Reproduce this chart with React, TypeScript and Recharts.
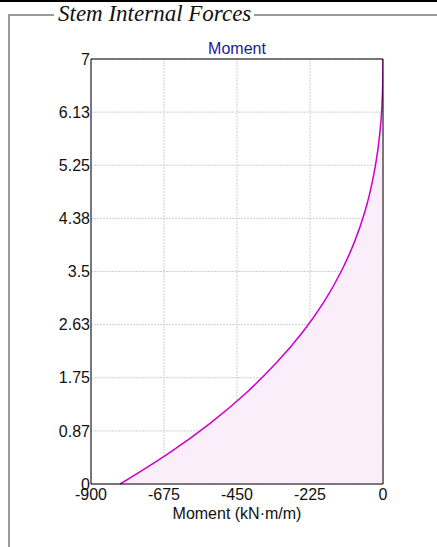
import {
  ComposedChart,
  Area,
  XAxis,
  YAxis,
  CartesianGrid,
  ReferenceLine,
} from 'recharts';

// stem height (m) and bending moment (kN·m/m)
const heights = [0, 0.5, 1, 1.5, 2, 2.5, 3, 3.5, 4, 4.5, 5, 5.5, 6, 6.5, 7];
const moments = [-810, -662, -533, -422, -328, -248, -182, -129, -87, -55, -32, -16, -6, -1.3, 0];

const xTicks = [-900, -675, -450, -225, 0];
const yTicks = [0, 0.875, 1.75, 2.625, 3.5, 4.375, 5.25, 6.125, 7];
const yTickLabels = ['0', '0.87', '1.75', '2.63', '3.5', '4.38', '5.25', '6.13', '7'];

const data = heights.map((h, i) => ({ h, m: moments[i] }));

export default function App() {
  const tickStyle = { fontSize: 16, fill: '#111' };

  return (
    <div
      style={{
        position: 'absolute',
        top: 0,
        left: 0,
        width: 437,
        height: 547,
        overflow: 'hidden',
        background: '#fff',
        fontFamily: 'Arial, "Liberation Sans", sans-serif',
      }}
    >
      {/* top rule of the page */}
      <div style={{ position: 'absolute', top: 0, left: 0, width: 437, height: 2, background: '#000' }} />

      {/* fieldset frame */}
      <div style={{ position: 'absolute', top: 14, left: 8, width: 2, height: 540, background: '#9a9a9a' }} />
      <div style={{ position: 'absolute', top: 14, left: 8, width: 46, height: 2, background: '#9a9a9a' }} />
      <div style={{ position: 'absolute', top: 14, left: 254, width: 190, height: 2, background: '#9a9a9a' }} />
      <div
        style={{
          position: 'absolute',
          top: 0,
          left: 58,
          fontFamily: '"Liberation Serif", "Times New Roman", serif',
          fontStyle: 'italic',
          fontSize: 23,
          lineHeight: '27px',
          color: '#111',
          whiteSpace: 'nowrap',
        }}
      >
        Stem Internal Forces
      </div>

      {/* chart title */}
      <div
        style={{
          position: 'absolute',
          top: 39,
          left: 91,
          width: 292,
          textAlign: 'center',
          fontSize: 16,
          lineHeight: '20px',
          color: '#1a1a99',
        }}
      >
        Moment
      </div>

      <div style={{ position: 'absolute', top: 0, left: 0 }}>
        <ComposedChart
          width={437}
          height={547}
          data={data}
          layout="vertical"
          margin={{ top: 59, right: 54, bottom: 23, left: 0 }}
        >
          <CartesianGrid stroke="#cfcfcf" strokeDasharray="2 1" />
          <XAxis
            type="number"
            dataKey="m"
            domain={[-900, 0]}
            ticks={xTicks}
            allowDataOverflow
            height={40}
            tickSize={0}
            tickMargin={5}
            axisLine={{ stroke: '#000' }}
            tick={tickStyle}
            interval={0}
            label={{ value: 'Moment (kN·m/m)', position: 'insideBottom', offset: 5, fontSize: 16, fill: '#111' }}
          />
          <YAxis
            type="number"
            dataKey="h"
            domain={[0, 7]}
            ticks={yTicks}
            reversed
            width={91}
            tickSize={0}
            tickMargin={1}
            axisLine={{ stroke: '#000' }}
            tick={tickStyle}
            interval={0}
            tickFormatter={(v: number) => yTickLabels[yTicks.indexOf(v)] ?? String(v)}
          />
          <ReferenceLine y={7} stroke="#000" />
          <ReferenceLine x={0} stroke="#000" />
          <Area
            type="monotoneY"
            dataKey="m"
            stroke="#cc00cc"
            strokeWidth={1.5}
            fill="#f9eef9"
            fillOpacity={1}
            isAnimationActive={false}
            dot={false}
            activeDot={false}
          />
        </ComposedChart>
      </div>
    </div>
  );
}
